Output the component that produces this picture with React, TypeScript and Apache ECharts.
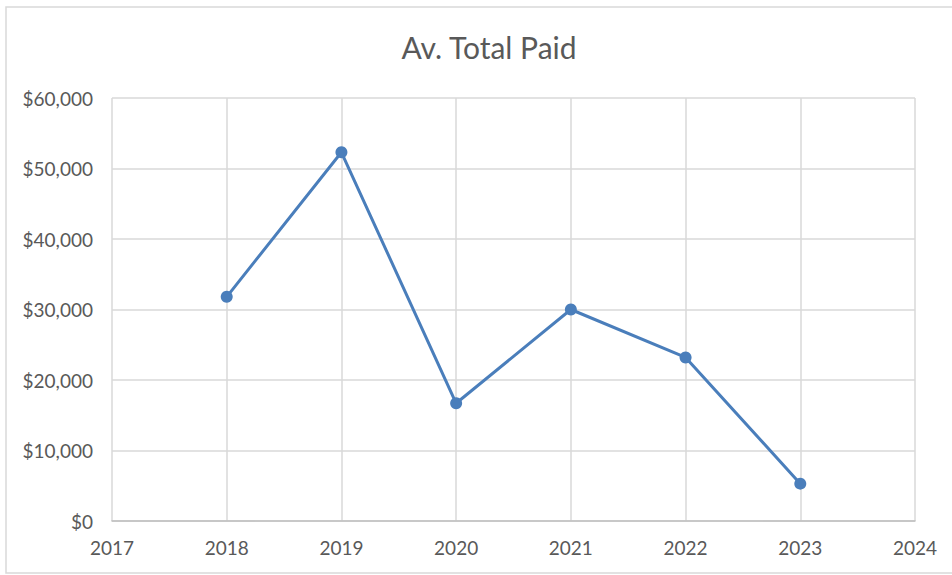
import React, { useEffect, useRef } from "react";
import * as echarts from "echarts";

const years = [2018, 2019, 2020, 2021, 2022, 2023];
const avgTotalPaid = [31800, 52300, 16700, 30000, 23200, 5300];
const titleText = "Av. Total Paid";

export default function App() {
  const ref = useRef<HTMLDivElement>(null);
  useEffect(() => {
    if (!ref.current) return;
    const chart = echarts.init(ref.current, null, { renderer: "svg" });
    const font = "Lato, 'Open Sans', sans-serif";
    chart.setOption({
      animation: false,
      backgroundColor: "#ffffff",
      title: {
        text: titleText,
        left: 484,
        top: 27,
        textAlign: "center",
        textStyle: { fontFamily: font, fontSize: 30, fontWeight: "normal", color: "#595959" },
      },
      graphic: [
        {
          type: "rect",
          shape: { x: 6, y: 7, width: 980, height: 566 },
          style: { fill: "none", stroke: "#d9d9d9", lineWidth: 1.5 },
          silent: true,
        },
      ],
      grid: { left: 112, right: 37, top: 98, bottom: 54 },
      xAxis: {
        type: "value",
        min: 2017,
        max: 2024,
        interval: 1,
        axisLine: { show: true, lineStyle: { color: "#bfbfbf", width: 1.5 } },
        axisTick: { show: false },
        splitLine: { show: true, lineStyle: { color: "#d9d9d9", width: 1.5 } },
        axisLabel: { fontFamily: font, fontSize: 19, color: "#595959", margin: 17, formatter: (v: number) => String(v) },
      },
      yAxis: {
        type: "value",
        min: 0,
        max: 60000,
        interval: 10000,
        axisLine: { show: false },
        axisTick: { show: false },
        splitLine: { show: true, lineStyle: { color: "#d9d9d9", width: 1.5 } },
        axisLabel: {
          fontFamily: font,
          fontSize: 19,
          color: "#595959",
          margin: 19,
          formatter: (v: number) => "$" + v.toLocaleString("en-US"),
        },
      },
      series: [
        {
          type: "line",
          data: years.map((y, i) => [y, avgTotalPaid[i]]),
          symbol: "circle",
          symbolSize: 12,
          lineStyle: { color: "#4A7EBB", width: 3 },
          itemStyle: { color: "#4A7EBB" },
        },
      ],
    });
    return () => chart.dispose();
  }, []);
  return <div ref={ref} style={{ position: "absolute", left: 0, top: 0, width: 952, height: 575 }} />;
}
